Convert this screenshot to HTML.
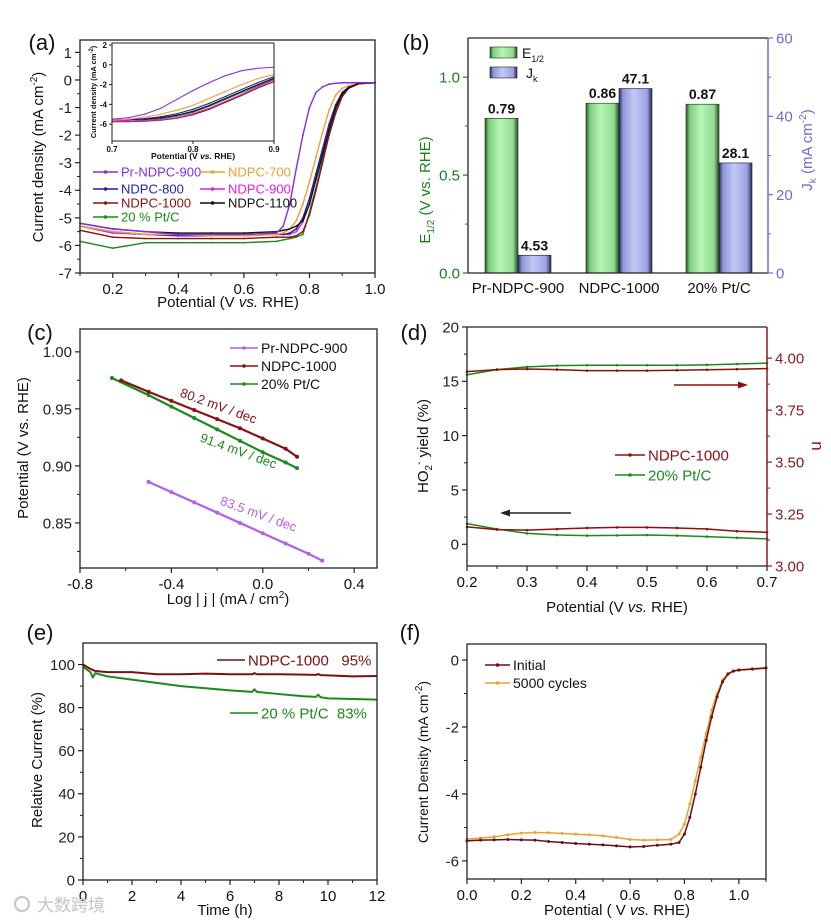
<!DOCTYPE html>
<html><head><meta charset="utf-8">
<style>
html,body{margin:0;padding:0;background:#fff;}
svg{display:block;font-family:"Liberation Sans",Arial,"Noto Sans CJK SC",sans-serif;}
</style></head>
<body>
<svg id="fig" width="831" height="923" viewBox="0 0 831 923" xmlns="http://www.w3.org/2000/svg">
<defs>
<linearGradient id="gGreen" x1="0" x2="1" y1="0" y2="0">
<stop offset="0" stop-color="#2a5a2a"/><stop offset="0.12" stop-color="#7fcf7f"/><stop offset="0.45" stop-color="#b8f5b8"/><stop offset="0.85" stop-color="#8fdc8f"/><stop offset="1" stop-color="#2a4a2a"/>
</linearGradient>
<linearGradient id="gBlue" x1="0" x2="1" y1="0" y2="0">
<stop offset="0" stop-color="#2a2a55"/><stop offset="0.12" stop-color="#8d96d8"/><stop offset="0.45" stop-color="#c2c8f6"/><stop offset="0.85" stop-color="#9aa2e4"/><stop offset="1" stop-color="#2a2a4a"/>
</linearGradient>
</defs>
</svg>
<script>
// ---------- DATA ----------
// (a) main LSV
const aX = [0.1,0.2,0.3,0.4,0.5,0.6,0.7,0.72,0.74,0.76,0.78,0.8,0.82,0.84,0.86,0.88,0.9,0.92,0.95,1.0];
const aPr900 = [-5.2,-5.4,-5.5,-5.6,-5.6,-5.6,-5.55,-5.3,-4.5,-3.2,-2.0,-1.0,-0.45,-0.25,-0.15,-0.12,-0.1,-0.1,-0.1,-0.1];
const a700 = [-5.3,-5.5,-5.6,-5.6,-5.65,-5.65,-5.6,-5.55,-5.4,-5.1,-4.5,-3.7,-2.8,-1.9,-1.1,-0.55,-0.3,-0.2,-0.12,-0.1];
const a800 = [-5.3,-5.5,-5.6,-5.65,-5.65,-5.65,-5.6,-5.6,-5.55,-5.4,-5.0,-4.3,-3.4,-2.5,-1.6,-0.9,-0.45,-0.25,-0.12,-0.1];
const a900 = [-5.3,-5.55,-5.6,-5.6,-5.6,-5.6,-5.6,-5.6,-5.6,-5.5,-5.15,-4.5,-3.6,-2.7,-1.8,-1.0,-0.5,-0.28,-0.13,-0.1];
const a1000 = [-5.45,-5.7,-5.75,-5.75,-5.75,-5.75,-5.7,-5.7,-5.7,-5.65,-5.5,-4.9,-4.0,-3.0,-2.0,-1.2,-0.6,-0.3,-0.14,-0.1];
const a1100 = [-5.2,-5.4,-5.5,-5.55,-5.55,-5.55,-5.5,-5.45,-5.4,-5.3,-5.1,-4.5,-3.6,-2.7,-1.8,-1.0,-0.5,-0.28,-0.13,-0.1];
const aPtC = [-5.85,-6.1,-5.9,-5.9,-5.9,-5.9,-5.85,-5.8,-5.75,-5.7,-5.6,-4.8,-3.9,-2.9,-1.9,-1.1,-0.55,-0.28,-0.13,-0.1];
const aXTicks = [0.2,0.4,0.6,0.8,1.0];
const aXLabels = ["0.2","0.4","0.6","0.8","1.0"];
const aYTicks = [-7,-6,-5,-4,-3,-2,-1,0,1];
const aYLabels = ["-7","-6","-5","-4","-3","-2","-1","0","1"];
// (a) inset
const iX = [0.7,0.72,0.74,0.76,0.78,0.8,0.82,0.84,0.86,0.88,0.9];
const iPr900 = [-5.5,-5.35,-5.0,-4.4,-3.5,-2.6,-1.8,-1.1,-0.6,-0.35,-0.25];
const i700 = [-5.6,-5.5,-5.3,-5.0,-4.6,-4.1,-3.4,-2.7,-2.0,-1.4,-1.0];
const i800 = [-5.6,-5.55,-5.45,-5.25,-4.95,-4.5,-3.9,-3.2,-2.5,-1.8,-1.2];
const i1100 = [-5.55,-5.55,-5.5,-5.35,-5.1,-4.7,-4.1,-3.4,-2.7,-2.0,-1.35];
const iPtC = [-5.75,-5.7,-5.6,-5.45,-5.2,-4.8,-4.2,-3.5,-2.8,-2.1,-1.45];
const i900 = [-5.7,-5.7,-5.65,-5.55,-5.35,-4.95,-4.4,-3.7,-3.0,-2.2,-1.55];
const i1000 = [-5.75,-5.75,-5.7,-5.6,-5.4,-5.05,-4.5,-3.8,-3.1,-2.35,-1.7];
// (b) bars
const bCats = ["Pr-NDPC-900","NDPC-1000","20% Pt/C"];
const bE12 = [0.79,0.867,0.862];
const bE12Labels = ["0.79","0.86","0.87"];
const bJk = [4.53,47.1,28.1];
const bJkLabels = ["4.53","47.1","28.1"];
const bLTicks = [0,0.5,1.0];
const bLLabels = ["0.0","0.5","1.0"];
const bRTicks = [0,20,40,60];
const bRLabels = ["0","20","40","60"];
// (c) Tafel
const cPrX = [-0.50,-0.4,-0.3,-0.2,-0.1,0.0,0.1,0.2,0.26];
const cPrY = [0.886,0.877,0.868,0.859,0.850,0.841,0.832,0.823,0.817];
const c1000X = [-0.62,-0.5,-0.4,-0.3,-0.2,-0.1,0.0,0.1,0.15];
const c1000Y = [0.975,0.965,0.957,0.949,0.941,0.933,0.924,0.915,0.908];
const cPtX = [-0.66,-0.5,-0.4,-0.3,-0.2,-0.1,0.0,0.1,0.15];
const cPtY = [0.977,0.962,0.952,0.942,0.932,0.922,0.912,0.903,0.898];
const cXTicks = [-0.8,-0.4,0.0,0.4];
const cXLabels = ["-0.8","-0.4","0.0","0.4"];
const cYTicks = [0.85,0.90,0.95,1.00];
const cYLabels = ["0.85","0.90","0.95","1.00"];
// (d) RRDE
const dX = [0.2,0.25,0.3,0.35,0.4,0.45,0.5,0.55,0.6,0.65,0.7];
const dN1000 = [3.935,3.945,3.948,3.945,3.94,3.94,3.94,3.942,3.944,3.947,3.95];
const dNPt = [3.92,3.945,3.958,3.964,3.966,3.966,3.966,3.966,3.968,3.972,3.976];
const dY1000 = [1.6,1.35,1.3,1.4,1.5,1.55,1.55,1.5,1.4,1.2,1.1];
const dYPt = [1.9,1.4,1.0,0.85,0.8,0.82,0.85,0.8,0.7,0.6,0.5];
const dXTicks = [0.2,0.3,0.4,0.5,0.6,0.7];
const dXLabels = ["0.2","0.3","0.4","0.5","0.6","0.7"];
const dLTicks = [0,5,10,15,20];
const dLLabels = ["0","5","10","15","20"];
const dRTicks = [3.0,3.25,3.5,3.75,4.0];
const dRLabels = ["3.00","3.25","3.50","3.75","4.00"];
// (e) stability
const eT = [0,0.3,0.4,0.5,1,2,3,4,5,6,6.9,7,7.1,8,9,9.5,9.6,9.7,10,11,12];
const e1000 = [100,98,97.5,97,96.5,96.5,95.5,95.5,95.8,95.5,95.5,96,95.5,95.5,95.3,95.2,95.6,95.1,95,94.5,94.7];
const ePt = [99,96.5,94,96,94.5,93,91.5,90,89,88,87.3,88.5,87.3,86.3,85.3,85,86,84.8,84.3,84,83.7];
const eXTicks = [0,2,4,6,8,10,12];
const eXLabels = ["0","2","4","6","8","10","12"];
const eYTicks = [0,20,40,60,80,100];
const eYLabels = ["0","20","40","60","80","100"];
// (f) durability
const fX = [0,0.05,0.1,0.15,0.2,0.25,0.3,0.35,0.4,0.45,0.5,0.55,0.6,0.65,0.7,0.75,0.78,0.8,0.82,0.84,0.86,0.88,0.9,0.92,0.94,0.96,0.98,1.0,1.05,1.1];
const fInit = [-5.4,-5.38,-5.37,-5.36,-5.37,-5.38,-5.42,-5.45,-5.48,-5.5,-5.52,-5.55,-5.58,-5.57,-5.53,-5.5,-5.45,-5.2,-4.7,-4.0,-3.2,-2.4,-1.7,-1.1,-0.65,-0.42,-0.33,-0.3,-0.27,-0.24];
const f5000 = [-5.35,-5.32,-5.28,-5.22,-5.17,-5.15,-5.16,-5.18,-5.2,-5.22,-5.25,-5.3,-5.36,-5.38,-5.37,-5.36,-5.2,-4.9,-4.3,-3.6,-2.9,-2.2,-1.5,-1.0,-0.6,-0.4,-0.32,-0.29,-0.26,-0.22];
const fXTicks = [0,0.2,0.4,0.6,0.8,1.0];
const fXLabels = ["0.0","0.2","0.4","0.6","0.8","1.0"];
const fYTicks = [-6,-4,-2,0];
const fYLabels = ["-6","-4","-2","0"];

// ---------- HELPERS ----------
const NS = "http://www.w3.org/2000/svg";
const svg = document.getElementById("fig");
function el(tag, attrs, name, parent) {
  const e = document.createElementNS(NS, tag);
  for (const k in attrs) e.setAttribute(k, attrs[k]);
  
  
  (parent || svg).appendChild(e);
  return e;
}
function txt(s, x, y, size, name, opt) {
  opt = opt || {};
  const t = el("text", {x: x, y: y, "font-size": size, fill: opt.fill || "#111", "text-anchor": opt.anchor || "middle", "font-weight": opt.bold ? "bold" : "normal"}, name, opt.parent);
  if (opt.rot) t.setAttribute("transform", "rotate(" + opt.rot + " " + x + " " + y + ")");
  t.innerHTML = s;
  return t;
}
function lin(d0, d1, p0, p1) { return v => p0 + (v - d0) * (p1 - p0) / (d1 - d0); }
function frame(L, T, R, B, name, sw) {
  el("rect", {x: L, y: T, width: R - L, height: B - T, fill: "none", stroke: "#222", "stroke-width": sw || 1.3}, name);
}
function xAxis(sx, B, ticks, labels, minor, size, name, len) {
  ticks.forEach((v, i) => {
    el("line", {x1: sx(v), x2: sx(v), y1: B, y2: B + (len || 5), stroke: "#222", "stroke-width": 1.2}, name + "-tick");
    txt(labels[i], sx(v), B + (len || 5) + size + 1, size, name + "-label");
  });
  (minor || []).forEach(v => el("line", {x1: sx(v), x2: sx(v), y1: B, y2: B + 3, stroke: "#222", "stroke-width": 1}, name + "-minor-tick"));
}
function yAxis(sy, X, ticks, labels, minor, size, name, side, color, len) {
  const dir = side === "right" ? 1 : -1;
  const c = color || "#222";
  ticks.forEach((v, i) => {
    el("line", {x1: X, x2: X + dir * (len || 5), y1: sy(v), y2: sy(v), stroke: c, "stroke-width": 1.2}, name + "-tick");
    txt(labels[i], X + dir * ((len || 5) + 3), sy(v) + size * 0.36, size, name + "-label", {anchor: side === "right" ? "start" : "end", fill: c});
  });
  (minor || []).forEach(v => el("line", {x1: X, x2: X + dir * 3, y1: sy(v), y2: sy(v), stroke: c, "stroke-width": 1}, name + "-minor-tick"));
}
function series(xs, ys, sx, sy, color, name, w, markerR, parent) {
  const pts = xs.map((x, i) => sx(x).toFixed(2) + "," + sy(ys[i]).toFixed(2)).join(" ");
  el("polyline", {points: pts, fill: "none", stroke: color, "stroke-width": w || 1.3, "stroke-linejoin": "round"}, name, parent);
  if (markerR) xs.forEach((x, i) => el("circle", {cx: sx(x), cy: sy(ys[i]), r: markerR, fill: color}, name + "-marker", parent));
}
function legendLine(x1, x2, y, color, label, size, name, tcolor, marker) {
  el("line", {x1: x1, x2: x2, y1: y, y2: y, stroke: color, "stroke-width": 1.5}, name + "-swatch");
  if (marker) el("circle", {cx: (x1 + x2) / 2, cy: y, r: 1.8, fill: color}, name + "-swatch-marker");
  txt(label, x2 + 3, y + size * 0.36, size, name + "-text", {anchor: "start", fill: tcolor || "#111"});
}
function range(a, b, s) { const r = []; for (let v = a; v <= b + 1e-9; v += s) r.push(+v.toFixed(4)); return r; }

// ---------- PANEL (a) ----------
(function () {
  const L = 80, R = 375, T = 40, B = 273;
  const sx = lin(0.1, 1.0, L, R), sy = lin(-7, 1.45, B, T);
  const cols = {pr: "#8a2be2", o: "#f0a030", b: "#1f1fb0", m: "#e020e0", r: "#8b1010", k: "#111", g: "#1a8a1a"};
  series(aX, aPtC, sx, sy, cols.g, "a-ptc-curve", 1.4, 0.9);
  series(aX, a1000, sx, sy, cols.r, "a-ndpc1000-curve", 1.4, 0.9);
  series(aX, a900, sx, sy, cols.m, "a-ndpc900-curve", 1.4, 0.9);
  series(aX, a800, sx, sy, cols.b, "a-ndpc800-curve", 1.4, 0.9);
  series(aX, a700, sx, sy, cols.o, "a-ndpc700-curve", 1.4, 0.9);
  series(aX, a1100, sx, sy, cols.k, "a-ndpc1100-curve", 1.4, 0.9);
  series(aX, aPr900, sx, sy, cols.pr, "a-prndpc900-curve", 1.4, 0.9);
  frame(L, T, R, B, "a-plot-frame");
  xAxis(sx, B, aXTicks, aXLabels, [0.1, 0.3, 0.5, 0.7, 0.9], 15, "a-x-axis");
  yAxis(sy, L, aYTicks, aYLabels, range(-6.5, 0.5, 1), 15, "a-y-axis");
  txt("Potential (V <tspan font-style='italic'>vs.</tspan> RHE)", 228, 307, 15, "a-x-axis-title");
  txt("Current density (mA cm<tspan dy='-6' font-size='10'>-2</tspan><tspan dy='6'>)</tspan>", 43, 157, 15, "a-y-axis-title", {rot: -90});
  txt("(a)", 42, 50, 22, "a-panel-label");
  const lg = [[93, 172, cols.pr, "Pr-NDPC-900"], [200, 172, cols.o, "NDPC-700"], [93, 189, cols.b, "NDPC-800"], [200, 189, cols.m, "NDPC-900"], [93, 203, cols.r, "NDPC-1000"], [200, 203, cols.k, "NDPC-1100"], [93, 217, cols.g, "20 % Pt/C"]];
  lg.forEach((l, i) => legendLine(l[0], l[0] + 25, l[1], l[2], l[3], 13, "a-legend-entry-" + i, l[2] === cols.k ? "#111" : l[2], true));
  // inset
  const g = el("g", {}, "a-inset");
  const iL = 112, iR = 274, iT = 43, iB = 141;
  const ix = lin(0.7, 0.9, iL, iR), iy = lin(-7.7, 2.2, iB, iT);
  el("rect", {x: 89, y: 41, width: 188, height: 120, fill: "#fff"}, "a-inset-background", g);
  const iser = [[iPtC, cols.g], [i1000, cols.r], [i900, cols.m], [i1100, cols.k], [i800, cols.b], [i700, cols.o], [iPr900, cols.pr]];
  iser.forEach((s, k) => series(iX, s[0], ix, iy, s[1], "a-inset-curve-" + k, 1.1, 0.6, g));
  el("rect", {x: iL, y: iT, width: iR - iL, height: iB - iT, fill: "none", stroke: "#222", "stroke-width": 1}, "a-inset-frame", g);
  [0.7, 0.8, 0.9].forEach((v, i) => {
    el("line", {x1: ix(v), x2: ix(v), y1: iB, y2: iB + 3, stroke: "#222"}, "a-inset-x-tick", g);
    txt(["0.7", "0.8", "0.9"][i], ix(v), iB + 11, 8, "a-inset-x-label", {bold: true, parent: g});
  });
  [-6, -4, -2, 0, 2].forEach(v => {
    el("line", {x1: iL - 3, x2: iL, y1: iy(v), y2: iy(v), stroke: "#222"}, "a-inset-y-tick", g);
    txt(String(v), iL - 5, iy(v) + 3, 8, "a-inset-y-label", {bold: true, anchor: "end", parent: g});
  });
  txt("Potential (V <tspan font-style='italic'>vs.</tspan> RHE)", 193, 159, 8.5, "a-inset-x-title", {bold: true, parent: g});
  txt("Current density (mA cm<tspan dy='-3' font-size='6'>-2</tspan><tspan dy='3'>)</tspan>", 96, 92, 7.5, "a-inset-y-title", {bold: true, rot: -90, parent: g});
})();

// ---------- PANEL (b) ----------
(function () {
  const L = 468, R = 768, T = 38, B = 273;
  const syl = lin(0, 1.2, B, T), syr = lin(0, 60, B, T);
  const centers = [518, 619, 719], bw = 33;
  bCats.forEach((c, i) => {
    const cx = centers[i];
    el("rect", {x: cx - bw, y: syl(bE12[i]), width: bw, height: B - syl(bE12[i]), fill: "url(#gGreen)", stroke: "#1a2a1a", "stroke-width": 0.6}, "b-bar-e12-" + i);
    el("rect", {x: cx, y: syr(bJk[i]), width: bw, height: B - syr(bJk[i]), fill: "url(#gBlue)", stroke: "#1a1a2a", "stroke-width": 0.6}, "b-bar-jk-" + i);
    txt(bE12Labels[i], cx - bw / 2, syl(bE12[i]) - 5, 14, "b-value-e12-" + i, {bold: true});
    txt(bJkLabels[i], cx + bw / 2, syr(bJk[i]) - 5, 14, "b-value-jk-" + i, {bold: true});
    txt(c, cx, 293, 15, "b-category-label-" + i);
  });
  el("line", {x1: L, x2: L, y1: T, y2: B, stroke: "#222", "stroke-width": 1.3}, "b-left-axis-line");
  el("line", {x1: L, x2: R, y1: T, y2: T, stroke: "#222", "stroke-width": 1.3}, "b-top-axis-line");
  el("line", {x1: L, x2: R, y1: B, y2: B, stroke: "#222", "stroke-width": 1.3}, "b-bottom-axis-line");
  el("line", {x1: R, x2: R, y1: T, y2: B, stroke: "#6b6bd6", "stroke-width": 1.5}, "b-right-axis-line");
  yAxis(syl, L, bLTicks, bLLabels, [0.25, 0.75], 15, "b-left-axis", "left", "#1a7f1a");
  yAxis(syr, R, bRTicks, bRLabels, [10, 30, 50], 15, "b-right-axis", "right", "#6b6bd6");
  txt("E<tspan dy='4' font-size='10'>1/2</tspan><tspan dy='-4'> (V vs. RHE)</tspan>", 430, 190, 15, "b-left-axis-title", {rot: -90, fill: "#1a7f1a"});
  txt("J<tspan dy='4' font-size='10'>k</tspan><tspan dy='-4'> (mA cm</tspan><tspan dy='-6' font-size='10'>-2</tspan><tspan dy='6'>)</tspan>", 812, 150, 15, "b-right-axis-title", {rot: -90, fill: "#6b6bd6"});
  txt("(b)", 416, 50, 22, "b-panel-label");
  el("rect", {x: 490, y: 47, width: 27, height: 11, fill: "url(#gGreen)", stroke: "#1a2a1a", "stroke-width": 0.6}, "b-legend-e12-swatch");
  txt("E<tspan dy='4' font-size='9'>1/2</tspan>", 522, 58, 14, "b-legend-e12-text", {anchor: "start"});
  el("rect", {x: 490, y: 67, width: 27, height: 11, fill: "url(#gBlue)", stroke: "#1a1a2a", "stroke-width": 0.6}, "b-legend-jk-swatch");
  txt("J<tspan dy='4' font-size='9'>k</tspan>", 526, 78, 14, "b-legend-jk-text", {anchor: "start"});
})();

// ---------- PANEL (c) ----------
(function () {
  const L = 80, R = 377, T = 329, B = 568;
  const sx = lin(-0.8, 0.5, L, R), sy = lin(0.8105, 1.02, B, T);
  series(cPtX, cPtY, sx, sy, "#1a8a1a", "c-ptc-line", 2.2, 2);
  series(c1000X, c1000Y, sx, sy, "#8b1010", "c-ndpc1000-line", 2.2, 2);
  series(cPrX, cPrY, sx, sy, "#b060f0", "c-prndpc900-line", 2.2, 2);
  frame(L, T, R, B, "c-plot-frame");
  xAxis(sx, B, cXTicks, cXLabels, [-0.6, -0.2, 0.2], 15, "c-x-axis");
  yAxis(sy, L, cYTicks, cYLabels, [0.825, 0.875, 0.925, 0.975], 15, "c-y-axis");
  txt("Log | j | (mA / cm<tspan dy='-6' font-size='10'>2</tspan><tspan dy='6'>)</tspan>", 228, 604, 15, "c-x-axis-title");
  txt("Potential (V vs. RHE)", 28, 448, 15, "c-y-axis-title", {rot: -90});
  txt("(c)", 40, 340, 22, "c-panel-label");
  legendLine(230, 258, 348, "#b060f0", "Pr-NDPC-900", 14, "c-legend-prndpc900", "#111", true);
  legendLine(230, 258, 366, "#8b1010", "NDPC-1000", 14, "c-legend-ndpc1000", "#111", true);
  legendLine(230, 258, 384, "#1a8a1a", "20% Pt/C", 14, "c-legend-ptc", "#111", true);
  txt("80.2 mV / dec", 217, 410, 13, "c-slope-ndpc1000", {rot: 20, fill: "#8b1010"});
  txt("91.4 mV / dec", 237, 455, 13, "c-slope-ptc", {rot: 20, fill: "#1a8a1a"});
  txt("83.5 mV / dec", 257, 518, 13, "c-slope-prndpc900", {rot: 20, fill: "#b060f0"});
})();

// ---------- PANEL (d) ----------
(function () {
  const L = 467, R = 767, T = 327, B = 566;
  const sx = lin(0.2, 0.7, L, R), syl = lin(-2, 20, B, T), syr = lin(3.0, 4.15, B, T);
  series(dX, dNPt, sx, syr, "#1a8a1a", "d-n-ptc-curve", 1.5, 1.3);
  series(dX, dN1000, sx, syr, "#8b1010", "d-n-ndpc1000-curve", 1.5, 1.3);
  series(dX, dYPt, sx, syl, "#1a8a1a", "d-yield-ptc-curve", 1.5, 1.3);
  series(dX, dY1000, sx, syl, "#8b1010", "d-yield-ndpc1000-curve", 1.5, 1.3);
  el("line", {x1: L, x2: R, y1: T, y2: T, stroke: "#222", "stroke-width": 1.3}, "d-top-axis-line");
  el("line", {x1: L, x2: R, y1: B, y2: B, stroke: "#222", "stroke-width": 1.3}, "d-bottom-axis-line");
  el("line", {x1: L, x2: L, y1: T, y2: B, stroke: "#222", "stroke-width": 1.3}, "d-left-axis-line");
  el("line", {x1: R, x2: R, y1: T, y2: B, stroke: "#8b1a1a", "stroke-width": 1.5}, "d-right-axis-line");
  xAxis(sx, B, dXTicks, dXLabels, [0.25, 0.35, 0.45, 0.55, 0.65], 15, "d-x-axis");
  yAxis(syl, L, dLTicks, dLLabels, [2.5, 7.5, 12.5, 17.5], 15, "d-left-axis");
  yAxis(syr, R, dRTicks, dRLabels, [3.125, 3.375, 3.625, 3.875], 15, "d-right-axis", "right", "#8b1a1a");
  txt("Potential (V <tspan font-style='italic'>vs.</tspan> RHE)", 617, 612, 15, "d-x-axis-title");
  txt("HO<tspan dy='4' font-size='10'>2</tspan><tspan dy='-10' font-size='10'>-</tspan><tspan dy='6'> yield (%)</tspan>", 428, 446, 15, "d-y-axis-title", {rot: -90});
  txt("n", 812, 446, 17, "d-right-axis-title", {rot: 90, fill: "#8b1a1a"});
  txt("(d)", 414, 340, 22, "d-panel-label");
  legendLine(615, 645, 455, "#8b1010", "NDPC-1000", 15, "d-legend-ndpc1000", "#8b1010", true);
  legendLine(615, 645, 475, "#1a8a1a", "20% Pt/C", 15, "d-legend-ptc", "#1a8a1a", true);
  el("line", {x1: 674, x2: 740, y1: 385, y2: 385, stroke: "#8b1010", "stroke-width": 1.6}, "d-arrow-right-shaft");
  el("polygon", {points: "748,385 738,381.5 738,388.5", fill: "#8b1010"}, "d-arrow-right-head");
  el("line", {x1: 571, x2: 508, y1: 513, y2: 513, stroke: "#222", "stroke-width": 1.6}, "d-arrow-left-shaft");
  el("polygon", {points: "500,513 510,509.5 510,516.5", fill: "#222"}, "d-arrow-left-head");
})();

// ---------- PANEL (e) ----------
(function () {
  const L = 83, R = 377, T = 643, B = 880;
  const sx = lin(0, 12, L, R), sy = lin(0, 110, B, T);
  series(eT, ePt, sx, sy, "#1a8a1a", "e-ptc-curve", 2);
  series(eT, e1000, sx, sy, "#7a1010", "e-ndpc1000-curve", 2);
  frame(L, T, R, B, "e-plot-frame");
  xAxis(sx, B, eXTicks, eXLabels, [1, 3, 5, 7, 9, 11], 15, "e-x-axis");
  yAxis(sy, L, eYTicks, eYLabels, [10, 30, 50, 70, 90], 15, "e-y-axis");
  txt("Time (h)", 225, 915, 15, "e-x-axis-title");
  txt("Relative Current (%)", 42, 760, 15, "e-y-axis-title", {rot: -90});
  txt("(e)", 40, 640, 22, "e-panel-label");
  legendLine(217, 245, 660, "#7a1010", "NDPC-1000&#160;&#160;&#160;95%", 15, "e-legend-ndpc1000", "#7a1010");
  legendLine(230, 258, 713, "#1a8a1a", "20 % Pt/C&#160;&#160;83%", 15, "e-legend-ptc", "#1a8a1a");
  txt("大数跨境", 37, 911, 17, "watermark", {fill: "#c4c4c4", anchor: "start"});
  el("circle", {cx: 22, cy: 904, r: 7, fill: "none", stroke: "#c8c8c8", "stroke-width": 2.2}, "watermark-logo");
})();

// ---------- PANEL (f) ----------
(function () {
  const L = 467, R = 766, T = 644, B = 879;
  const sx = lin(0, 1.1, L, R), sy = lin(-6.54, 0.48, B, T);
  series(fX, f5000, sx, sy, "#f0a030", "f-5000cycles-curve", 1.5, 1.5);
  series(fX, fInit, sx, sy, "#6a0f12", "f-initial-curve", 1.5, 1.5);
  frame(L, T, R, B, "f-plot-frame");
  xAxis(sx, B, fXTicks, fXLabels, [0.1, 0.3, 0.5, 0.7, 0.9, 1.1], 15, "f-x-axis");
  yAxis(sy, L, fYTicks, fYLabels, [-5, -3, -1], 15, "f-y-axis");
  txt("Potential ( V <tspan font-style='italic'>vs.</tspan> RHE)", 617, 915, 15, "f-x-axis-title");
  txt("Current Density (mA cm<tspan dy='-6' font-size='10'>-2</tspan><tspan dy='6'>)</tspan>", 428, 762, 14, "f-y-axis-title", {rot: -90});
  txt("(f)", 410, 640, 22, "f-panel-label");
  legendLine(485, 510, 665, "#6a0f12", "Initial", 14, "f-legend-initial", "#111", true);
  legendLine(485, 510, 683, "#f0a030", "5000 cycles", 14, "f-legend-5000cycles", "#111", true);
})();
</script>
</body></html>
